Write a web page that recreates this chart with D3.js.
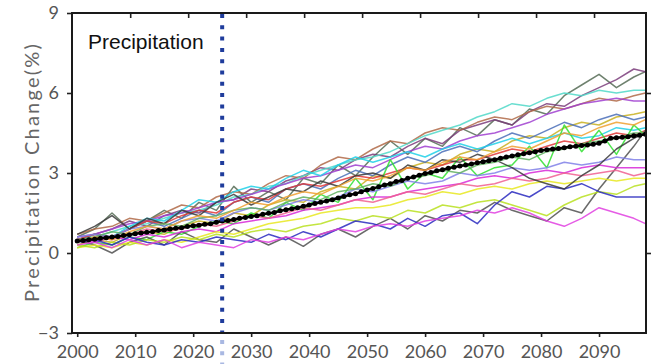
<!DOCTYPE html>
<html>
<head>
<meta charset="utf-8">
<script src="https://cdn.jsdelivr.net/npm/d3@7"></script>
<style>
  html, body { margin: 0; padding: 0; background: #fff; }
  svg { display: block; }
</style>
</head>
<body>
<div id="chart"></div>
<script>
// tick labels
const xTicks = [2000, 2010, 2020, 2030, 2040, 2050, 2060, 2070, 2080, 2090];
const yTicks = [-3, 0, 3, 6, 9];
const markerYear = 2025;

const modelYears = [2000,2003,2006,2009,2012,2015,2018,2021,2024,2027,2030,2033,2036,2039,2042,2045,2048,
                    2051,2054,2057,2060,2063,2066,2069,2072,2075,2078,2081,2084,2087,2090,2093,2096,2098];

const m01 = [0.6,0.9,1.5,0.9,1.2,1.6,1.3,1.9,1.6,2.5,1.9,2.3,2.0,2.8,2.6,3.3,2.9,3.6,4.2,3.7,4.3,4.0,4.7,4.4,5.0,4.8,5.4,5.2,5.9,6.3,6.7,6.2,6.6,6.8];
const m02 = [0.5,0.7,0.9,1.2,1.0,1.4,1.6,1.5,1.9,2.0,2.4,2.3,2.7,2.9,3.2,3.1,3.5,3.7,3.6,4.0,4.3,4.1,4.6,4.8,5.0,4.8,5.3,5.6,5.5,5.9,6.2,6.5,6.9,6.8];
const m03 = [0.7,0.9,1.0,1.3,1.2,1.5,1.8,1.7,2.1,2.3,2.2,2.6,2.9,2.8,3.3,3.6,3.5,3.9,4.2,4.1,4.5,4.7,4.6,4.9,5.1,5.0,5.3,5.5,5.4,5.6,5.8,5.7,5.9,6.0];
const m04 = [0.4,0.6,0.8,1.0,1.1,1.3,1.5,1.6,1.8,2.1,2.2,2.5,2.6,2.9,3.1,3.3,3.5,3.6,3.8,4.1,4.4,4.6,4.8,5.1,5.3,5.6,5.5,5.8,6.0,5.9,6.1,6.0,6.1,6.1];
const m05 = [0.6,0.7,0.9,1.1,1.2,1.4,1.5,1.7,1.9,2.0,2.2,2.4,2.6,2.8,2.9,3.1,3.3,3.2,3.5,3.8,4.0,3.9,4.2,4.4,4.5,4.7,4.9,5.2,5.4,5.6,5.7,5.8,5.7,5.7];
const m06 = [0.3,0.5,0.4,0.7,0.8,0.7,1.0,1.2,1.1,1.5,1.4,1.8,2.0,1.9,2.3,2.5,2.4,2.9,2.8,3.2,3.4,3.3,3.7,3.9,3.8,4.2,4.4,4.3,4.7,4.9,4.8,5.1,5.2,5.3];
const m07 = [0.5,0.7,0.6,0.9,1.2,1.0,1.3,1.6,1.4,1.9,2.1,1.9,2.4,2.6,2.4,2.8,3.1,2.9,3.3,3.6,3.4,3.8,4.0,3.8,4.2,4.5,4.3,4.6,4.9,4.7,5.0,5.2,5.0,5.1];
const m08 = [0.4,0.7,0.6,1.0,1.3,1.2,1.6,2.0,1.9,2.3,2.5,2.4,2.8,3.1,2.9,3.3,3.6,3.4,3.6,3.8,3.6,3.9,4.1,3.9,4.1,4.3,4.1,4.3,4.5,4.3,4.4,4.7,4.6,4.7];
const m09 = [0.5,0.7,0.6,0.9,1.2,1.1,1.4,1.6,1.5,1.9,2.1,2.0,2.4,2.6,2.5,2.7,2.9,2.8,3.0,3.2,3.1,3.3,3.5,3.5,3.7,3.9,3.8,4.0,4.2,4.1,4.3,4.5,4.4,4.6];
const m10 = [0.2,0.4,0.3,0.6,0.5,0.8,0.7,1.0,1.2,1.1,1.5,1.3,1.9,1.6,2.2,1.9,2.8,2.0,3.5,2.4,3.0,2.8,3.6,2.9,3.2,3.3,4.0,3.2,4.8,3.8,4.6,3.7,4.8,4.4];
const m11 = [0.5,0.3,0.0,0.4,0.6,0.3,0.8,0.5,0.4,0.9,0.6,0.3,0.6,0.25,0.7,0.9,0.6,1.0,1.3,0.9,1.4,1.2,1.6,1.5,1.9,1.6,1.4,1.2,1.7,1.5,2.4,3.2,4.0,4.6];
const m12 = [0.6,0.7,0.6,0.9,1.0,0.9,1.2,1.3,1.2,1.5,1.7,1.6,1.8,2.0,1.9,2.1,2.4,2.3,2.5,2.7,2.6,2.7,3.0,2.9,3.0,3.2,3.1,3.2,3.4,3.3,3.4,3.6,3.5,3.5];
const m13 = [0.5,0.4,0.6,0.5,0.7,0.6,0.8,0.9,0.8,1.1,1.2,1.3,1.4,1.6,1.7,1.8,2.0,2.1,2.1,2.3,2.4,2.5,2.6,2.8,2.9,2.8,3.0,3.1,3.0,3.2,3.3,3.2,3.2,3.2];
const m14 = [0.4,0.6,0.5,0.7,0.9,0.8,0.9,1.1,1.0,1.2,1.4,1.3,1.5,1.7,1.6,1.8,2.0,1.9,2.1,2.3,2.2,2.4,2.6,2.5,2.6,2.8,2.7,2.8,3.0,2.9,3.0,3.1,2.9,3.0];
const m15 = [0.2,0.3,0.2,0.4,0.3,0.5,0.4,0.6,0.8,0.7,0.9,1.1,1.2,1.3,1.5,1.6,1.7,1.7,1.8,2.0,2.1,2.3,2.2,2.4,2.5,2.4,2.6,2.7,2.6,2.7,2.8,2.7,2.8,2.8];
const m16 = [0.3,0.2,0.4,0.3,0.5,0.4,0.6,0.5,0.7,0.6,0.8,0.9,0.8,1.0,1.1,1.3,1.2,1.4,1.3,1.6,1.5,1.8,1.7,1.9,2.0,1.8,1.6,1.4,1.8,2.1,2.3,2.2,2.5,2.6];
const m17 = [0.4,0.5,0.3,0.6,0.4,0.3,0.5,0.4,0.6,0.5,0.4,0.7,0.5,0.8,0.6,0.9,1.2,1.1,0.9,1.3,1.0,1.4,1.5,1.1,1.8,2.3,2.1,2.5,2.4,2.6,2.3,2.1,2.1,2.1];
const m18 = [0.3,0.4,0.2,0.5,0.3,0.5,0.2,0.4,0.3,0.2,0.5,0.4,0.6,0.5,0.7,0.9,0.8,1.0,1.1,1.0,1.2,1.3,1.4,1.6,1.5,1.7,1.5,1.2,1.0,1.3,1.7,1.5,1.3,1.1];
const m19 = [0.7,1.0,1.4,0.9,1.3,1.1,1.6,1.4,1.9,2.2,1.8,2.1,2.4,2.3,2.7,2.5,2.9,3.0,2.8,3.3,3.1,3.5,3.4,3.7,3.5,3.2,2.8,2.6,2.4,2.9,3.3,3.9,4.3,4.5];
const m20 = [0.5,0.6,0.8,0.7,1.0,1.1,1.0,1.3,1.4,1.6,1.7,1.6,1.9,2.1,2.0,2.3,2.4,2.6,2.5,2.8,2.9,3.1,3.0,3.3,3.4,3.6,3.5,3.8,3.9,4.1,4.2,4.3,4.5,4.5];
const m21 = [0.4,0.6,0.5,0.8,1.0,0.9,1.2,1.4,1.3,1.6,1.9,1.8,2.1,2.3,2.2,2.5,2.8,2.7,2.9,3.2,3.1,3.4,3.6,3.5,3.8,4.0,3.9,4.2,4.5,4.4,4.7,4.9,4.8,5.0];

const models = [m01,m02,m03,m04,m05,m06,m07,m08,m09,m10,m11,m12,m13,m14,m15,m16,m17,m18,m19,m20,m21];
const modelColors = ["#556b55","#7b3d7b","#b06a48","#50d8c8","#a040d0","#c8b020","#4a6fb8","#20d0e8","#e03838","#30e030",
                     "#505050","#8080e8","#d828d8","#f06090","#e8e820","#b8e020","#2a2ac0","#e040e0","#3a3a3a","#60b060","#f0a030"];

// ensemble mean, one value per year 2000..2098
const meanYears = d3.range(2000, 2099);
const meanValues = [
  0.45,0.47,0.5,0.52,0.55,0.57,0.6,0.62,0.66,0.68,
  0.72,0.75,0.78,0.8,0.84,0.86,0.9,0.93,0.95,0.99,
  1.02,1.04,1.08,1.1,1.15,1.2,1.22,1.26,1.3,1.33,
  1.37,1.4,1.45,1.49,1.52,1.58,1.62,1.66,1.7,1.75,
  1.8,1.86,1.9,1.95,2.0,2.06,2.12,2.18,2.22,2.3,
  2.36,2.42,2.48,2.55,2.6,2.68,2.72,2.8,2.85,2.92,
  2.98,3.02,3.08,3.12,3.18,3.22,3.26,3.3,3.34,3.38,
  3.42,3.46,3.5,3.55,3.6,3.64,3.68,3.72,3.76,3.8,
  3.84,3.87,3.9,3.92,3.95,3.98,4.0,4.03,4.05,4.08,
  4.12,4.2,4.3,4.32,4.34,4.36,4.4,4.42,4.45
];

const width = 652, height = 364;
const plotLeft = 72, plotRight = 646, plotTop = 13, plotBottom = 333;

const svg = d3.select("#chart").append("svg")
    .attr("width", width)
    .attr("height", height);

const x = d3.scaleLinear().domain([1999.1, 2098.1]).range([plotLeft, plotRight]);
const y = d3.scaleLinear().domain([-3, 9]).range([plotBottom, plotTop]);

svg.append("clipPath").attr("id", "plot")
  .append("rect")
    .attr("x", plotLeft).attr("y", plotTop)
    .attr("width", plotRight - plotLeft).attr("height", plotBottom - plotTop);

const line = d3.line()
    .x(d => x(d[0]))
    .y(d => y(d[1]));

const g = svg.append("g").attr("clip-path", "url(#plot)");

models.forEach((vals, i) => {
    g.append("path")
        .datum(vals.map((v, j) => [modelYears[j], v]))
        .attr("d", line)
        .attr("fill", "none")
        .attr("stroke", modelColors[i])
        .attr("stroke-width", 1.5)
        .attr("stroke-opacity", 0.85)
        .attr("stroke-linejoin", "round");
});

const meanPts = meanValues.map((v, j) => [meanYears[j], v]);
g.append("path")
    .datum(meanPts)
    .attr("d", line)
    .attr("fill", "none")
    .attr("stroke", "#000")
    .attr("stroke-width", 2.5);

g.selectAll(".dot")
    .data(meanPts)
    .enter().append("circle")
    .attr("class", "dot")
    .attr("cx", d => x(d[0]))
    .attr("cy", d => y(d[1]))
    .attr("r", 2.5)
    .attr("fill", "#000");

// dotted marker for 2025
svg.append("line")
    .attr("x1", x(markerYear)).attr("x2", x(markerYear))
    .attr("y1", plotTop + 1).attr("y2", plotBottom)
    .attr("stroke", "#1f3c9c")
    .attr("stroke-width", 4)
    .attr("stroke-dasharray", "4 7.3");
svg.append("line")
    .attr("x1", x(markerYear)).attr("x2", x(markerYear))
    .attr("y1", plotBottom + 7).attr("y2", height)
    .attr("stroke", "#a9b8e2")
    .attr("stroke-width", 4)
    .attr("stroke-dasharray", "4 7.3");

// axes
const fontTick = "Lato, 'DejaVu Sans', sans-serif";

const xAxis = svg.append("g")
    .attr("transform", `translate(0,${plotBottom})`)
    .call(d3.axisBottom(x).tickValues(xTicks).tickSize(4).tickPadding(8).tickFormat(d3.format("d")));

const yAxis = svg.append("g")
    .attr("transform", `translate(${plotLeft},0)`)
    .call(d3.axisLeft(y).tickValues(yTicks).tickSize(5).tickPadding(8));

svg.append("g")
    .attr("transform", `translate(${plotRight},0)`)
    .call(d3.axisRight(y).tickValues([0, 3, 6]).tickSize(5).tickFormat(""));

svg.append("g")
    .attr("transform", `translate(-5,${plotTop})`)
    .call(d3.axisTop(x).tickValues(xTicks.slice(1)).tickSize(-5).tickFormat(""));

svg.selectAll(".domain").remove();
svg.selectAll(".tick line").attr("stroke", "#222").attr("stroke-width", 1.6);
[xAxis, yAxis].forEach(a => a.selectAll("text")
    .attr("font-family", fontTick)
    .attr("font-size", 18)
    .attr("fill", "#555"));

svg.append("rect")
    .attr("x", plotLeft).attr("y", plotTop)
    .attr("width", plotRight - plotLeft).attr("height", plotBottom - plotTop)
    .attr("fill", "none")
    .attr("stroke", "#1a1a1a")
    .attr("stroke-width", 2);

svg.append("text")
    .attr("x", 88).attr("y", 49)
    .attr("font-family", "'Liberation Sans', Arial, sans-serif")
    .attr("font-size", 21)
    .attr("fill", "#111")
    .text("Precipitation");

svg.append("text")
    .attr("transform", "translate(39,172) rotate(-90)")
    .attr("text-anchor", "middle")
    .attr("font-family", fontTick)
    .attr("font-size", 20)
    .attr("letter-spacing", 2.2)
    .attr("fill", "#666")
    .text("Precipitation Change(%)");
</script>
</body>
</html>
